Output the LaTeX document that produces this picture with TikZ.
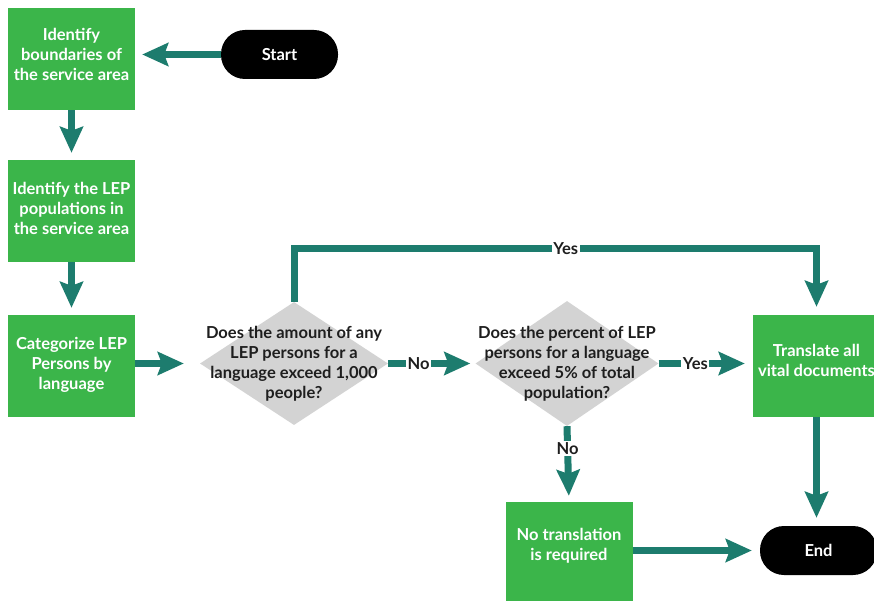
\documentclass[tikz,border=0pt]{standalone}
\usepackage{fontspec}
\setmainfont{Lato}[UprightFont=* Bold]
\usetikzlibrary{shapes.geometric,arrows.meta}
\definecolor{boxgreen}{RGB}{59,181,74}
\definecolor{flowteal}{RGB}{29,124,110}
\definecolor{qgray}{RGB}{211,211,211}
\definecolor{qtext}{RGB}{30,30,30}

\begin{document}
\begin{tikzpicture}[x=1pt,y=-1pt,
    stepbox/.style={fill=boxgreen,text=white,minimum width=127pt,minimum height=102pt,
        inner xsep=0pt,align=center,font=\fontsize{16.5}{20}\selectfont},
    pill/.style={fill=black,text=white,rounded corners=24pt,minimum width=117pt,
        minimum height=49pt,font=\fontsize{16.5}{20}\selectfont},
    question/.style={diamond,fill=qgray,minimum width=188pt,minimum height=123pt,inner sep=0pt},
    qlabel/.style={text=qtext,align=center,font=\fontsize{16.5}{20}\selectfont},
    flow/.style={draw=flowteal,line width=7pt,shorten >=7pt,
        -{Stealth[length=26pt,width=23pt,inset=4pt]}},
    lbl/.style={fill=white,text=qtext,inner sep=1.5pt,font=\fontsize{16.5}{18}\selectfont}]
    \useasboundingbox (0,0) rectangle (874,601);

    \node[stepbox] at (71.5,59) (b1) {Identify\\boundaries of\\the service area\\[-10pt]};
    \node[stepbox] at (71.5,211) (b2) {Identify the LEP\\populations in\\the service area\\[-14pt]};
    \node[stepbox] at (71.5,366) (b3) {Categorize LEP\\Persons by\\language\\[-14pt]};
    \node[stepbox] at (816.5,366) (b4) {Translate all\\vital documents\\[-8pt]};
    \node[stepbox] at (569,553) (b5) {No translation\\is required\\[-2pt]};
    \node[pill] at (279.5,54.5) (start) {Start};
    \node[pill] at (818.5,550.5) (end) {End};
    \node[question] at (294,363.5) (q1) {};
    \node[qlabel] at (q1) (q1t) {Does the amount of any\\LEP persons for a\\language exceed 1,000\\people?};
    \node[question,minimum width=183pt,minimum height=125pt] at (567,363.5) (q2) {};
    \node[qlabel] at (q2) (q2t) {Does the percent of LEP\\persons for a language\\exceed 5\% of total\\population?};
    \coordinate (ytop) at (294,249);

    \draw[flow] (start.west) to (b1.east |- start.west);
    \draw[flow] (b1) to (b2);
    \draw[flow] (b2) to (b3);
    \draw[flow,shorten >=16pt] (b3.east |- q1.west) to (q1.west);
    \draw[flow,shorten >=5pt] (q1.east) to node[lbl,pos=0.35] {No} (q2.west);
    \draw[flow,shorten >=8pt] (q2.east) to node[lbl,pos=0.39] {Yes} (q2.east -| b4.west);
    \draw[flow,shorten >=6pt] (q2.south) to node[lbl,pos=0.3] {No} (b5.north);
    \draw[flow,shorten >=8pt] (q1.north) -- (ytop) -| node[lbl,pos=0.26] {Yes} (b4.north);
    \draw[flow,shorten >=8pt] (b4.south) to (b4.south |- end.north);
    \draw[flow,shorten >=8pt] (b5.east |- end.west) to (end.west);
\end{tikzpicture}
\end{document}
